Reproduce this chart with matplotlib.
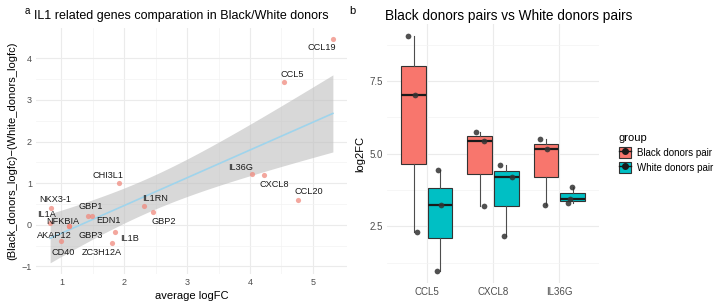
import numpy as np
import matplotlib
matplotlib.use('Agg')
import matplotlib.pyplot as plt
from matplotlib.patches import Patch
from matplotlib.lines import Line2D

plt.rcParams['font.family'] = ['Liberation Sans', 'DejaVu Sans']

# ---- panel a data ----
genes = ['CCL19', 'CCL5', 'IL36G', 'CXCL8', 'CCL20', 'CHI3L1', 'IL1RN', 'GBP2',
         'GBP1', 'EDN1', 'NKX3-1', 'IL1A', 'NFKBIA', 'AKAP12', 'GBP3', 'CD40',
         'IL1B', 'ZC3H12A']
avg_logfc = [5.32, 4.55, 4.03, 4.22, 4.76, 1.92, 2.31, 2.46,
             1.43, 1.49, 0.83, 0.82, 1.12, 1.12, 1.12, 1.00,
             1.86, 1.81]
diff_logfc = [4.46, 3.42, 1.22, 1.20, 0.60, 1.00, 0.45, 0.31,
              0.22, 0.22, 0.40, 0.05, -0.03, -0.03, -0.03, -0.39,
              -0.17, -0.44]
# label offsets in pixels (dx right, dy up)
label_dx = [-11, 8, -11, 10, 11, -11, 11, 11, 2, 16, 4, -4, -6, -15, 22, 2, 14, -11]
label_dy = [-8, 8, 7, -10, 8, 8, 8, -10, 9, -5, 9, 8, 5, -9, -9, -11, -7, -9]

# ---- panel b data ----
genes_b = ['CCL5', 'CXCL8', 'IL36G']
groups = ['Black donors pair', 'White donors pair']
black_vals = [[2.30, 7.00, 9.05], [3.20, 5.43, 5.76], [3.25, 5.16, 5.51]]
white_vals = [[0.96, 3.23, 4.44], [2.18, 4.19, 4.60], [3.30, 3.43, 3.86]]
black_jit = [[0.05, 0.02, -0.085], [0.065, 0.065, -0.05], [-0.02, 0.015, -0.085]]
white_jit = [[-0.05, 0.015, -0.035], [-0.04, 0.085, -0.10], [-0.065, -0.04, -0.015]]
colors = ['#F8766D', '#00BFC4']

fig = plt.figure(figsize=(7.2, 3.04), dpi=100)

# ===== panel a =====
ax = fig.add_axes([36/720, 1-274/304, 311/720, 246/304])
x = np.array(avg_logfc)
y = np.array(diff_logfc)
n = len(x)
slope, icpt = np.polyfit(x, y, 1)
resid = y - (slope*x + icpt)
s = np.sqrt(np.sum(resid**2)/(n-2))
xs = np.linspace(x.min(), x.max(), 100)
se = s*np.sqrt(1/n + (xs - x.mean())**2/np.sum((x - x.mean())**2))
t = 2.12  # t(0.975, df=16)
fit = slope*xs + icpt
ax.fill_between(xs, fit - t*se, fit + t*se, color='#BEBEBE', alpha=0.6, lw=0, zorder=1)
ax.plot(xs, fit, color='#9FD4EC', lw=1.2, zorder=2)
ax.scatter(x, y, s=14, color='#F08A7E', alpha=0.75, lw=0, zorder=3)
for g, xi, yi, dx, dy in zip(genes, x, y, label_dx, label_dy):
    ax.annotate(g, (xi, yi), xytext=(dx, dy), textcoords='offset pixels',
                ha='center', va='center', fontsize=6.6, color='#1a1a1a', zorder=4)

xr = x.max() - x.min()
ax.set_xlim(x.min() - 0.05*xr, x.max() + 0.05*xr)
ylo = min(y.min(), (fit - t*se).min())
yhi = max(y.max(), (fit + t*se).max())
yr = yhi - ylo
ax.set_ylim(ylo - 0.05*yr, yhi + 0.05*yr)
ax.set_xticks([1, 2, 3, 4, 5])
ax.set_xticks([1.5, 2.5, 3.5, 4.5], minor=True)
ax.set_yticks([-1, 0, 1, 2, 3, 4])
ax.set_yticks([-0.5, 0.5, 1.5, 2.5, 3.5], minor=True)
ax.grid(which='major', color='#EBEBEB', lw=0.8)
ax.grid(which='minor', color='#F3F3F3', lw=0.5)
ax.set_axisbelow(True)
for sp in ax.spines.values():
    sp.set_visible(False)
ax.tick_params(which='both', length=0, labelsize=6.5, labelcolor='#4D4D4D', pad=3)
ax.set_xlabel('average logFC', fontsize=8, labelpad=3)
ax.set_ylabel('(Black_donors_logfc)\u2212(White_donors_logfc)', fontsize=8, labelpad=3)
fig.text(34/720, 1-16/304, 'IL1 related genes comparation in Black/White donors',
         fontsize=9, va='center', ha='left')
fig.text(25/720, 1-11/304, 'a', fontsize=7, va='center', ha='left')

# ===== panel b =====
bx = fig.add_axes([387/720, 1-283/304, 212/720, 259/304])
pos = np.arange(1, len(genes_b) + 1)
for vals, jits, col, off in zip([black_vals, white_vals], [black_jit, white_jit],
                                colors, [-0.2, 0.2]):
    bx.boxplot(vals, positions=pos + off, widths=0.37, patch_artist=True,
               showfliers=False, whis=1.5, manage_ticks=False,
               medianprops=dict(color='#1a1a1a', lw=1.6),
               boxprops=dict(facecolor=col, edgecolor='#333333', lw=0.8),
               whiskerprops=dict(color='#4D4D4D', lw=0.8),
               capprops=dict(lw=0))
    for i, v in enumerate(vals):
        jx = pos[i] + off + np.array(jits[i])
        bx.scatter(jx, v, s=17, color='#333333', alpha=0.85, lw=0, zorder=5)

allv = np.concatenate([np.ravel(black_vals), np.ravel(white_vals)])
vr = allv.max() - allv.min()
bx.set_ylim(allv.min() - 0.05*vr, allv.max() + 0.05*vr)
bx.set_xlim(0.4, 3.6)
bx.set_xticks(pos)
bx.set_xticklabels(genes_b)
bx.set_yticks([2.5, 5.0, 7.5])
bx.set_yticks([1.25, 3.75, 6.25, 8.75], minor=True)
bx.grid(which='major', color='#EBEBEB', lw=0.8)
bx.grid(which='minor', axis='y', color='#F3F3F3', lw=0.5)
bx.set_axisbelow(True)
for sp in bx.spines.values():
    sp.set_visible(False)
bx.tick_params(which='both', length=0, labelsize=7, labelcolor='#4D4D4D', pad=3)
bx.set_ylabel('log2FC', fontsize=8, labelpad=3)
fig.text(385/720, 1-16/304, 'Black donors pairs vs White donors pairs',
         fontsize=9.8, va='center', ha='left')
fig.text(349/720, 1-11/304, 'b', fontsize=8, va='center', ha='left')

handles = [(Patch(facecolor=c, edgecolor='#333333', lw=0.8),
            Line2D([], [], color='#1a1a1a', marker='o', markersize=4, lw=1))
           for c in colors]
leg = fig.legend(handles, groups, title='group', loc='upper left',
                 bbox_to_anchor=(610/720, 1-124/304), frameon=False,
                 fontsize=7, title_fontsize=8, handlelength=1.3, handleheight=1.3,
                 labelspacing=0.45, handletextpad=0.6)
leg._legend_box.align = 'left'

fig.savefig('out.png', dpi=100)
